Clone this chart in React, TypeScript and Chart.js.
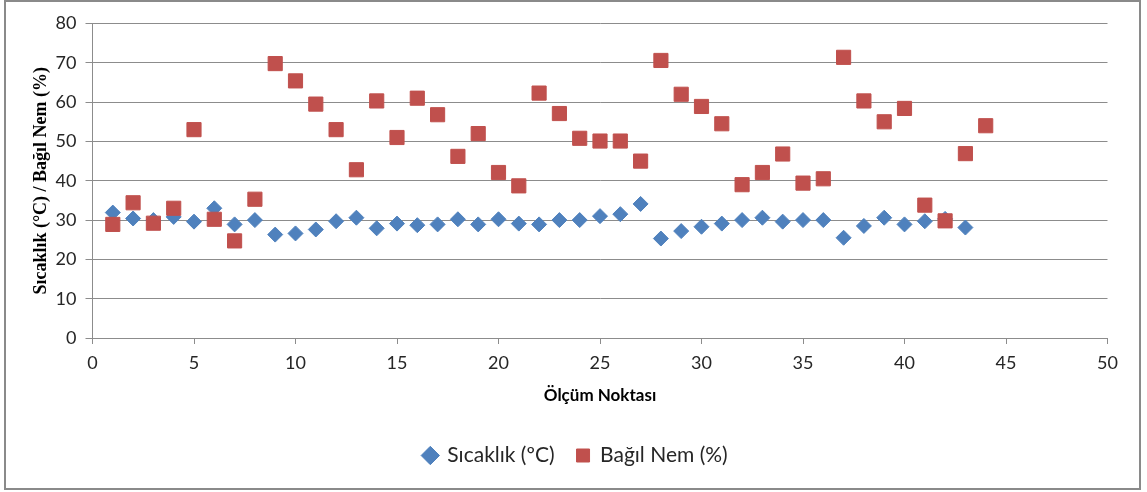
import React, { useEffect, useRef } from "react";
import { Chart, registerables } from "chart.js";

Chart.register(...registerables);

const temperature: number[] = [
  31.9, 30.4, 30.0, 30.8, 29.6, 33.0, 28.9, 30.0, 26.3, 26.6,
  27.6, 29.7, 30.6, 27.9, 29.1, 28.7, 28.9, 30.2, 28.9, 30.2,
  29.1, 28.9, 30.0, 30.0, 31.0, 31.5, 34.1, 25.3, 27.2, 28.3,
  29.1, 30.0, 30.6, 29.6, 30.0, 30.0, 25.5, 28.5, 30.6, 28.9,
  29.7, 30.3, 28.1,
];

const humidity: number[] = [
  28.9, 34.4, 29.2, 33.0, 53.0, 30.2, 24.7, 35.3, 69.8, 65.4,
  59.5, 53.0, 42.8, 60.3, 51.0, 61.0, 56.8, 46.2, 52.0, 42.1,
  38.7, 62.3, 57.1, 50.8, 50.1, 50.1, 45.0, 70.6, 62.0, 58.9,
  54.5, 39.0, 42.1, 46.8, 39.4, 40.5, 71.4, 60.3, 55.0, 58.4,
  33.8, 29.8, 46.9, 54.0,
];

const seriesNames: string[] = ["Sıcaklık (ºC)", "Bağıl Nem (%)"];
const xTitle = "Ölçüm Noktası";
const yTitle = "Sıcaklık (°C) / Bağıl Nem (%)";

const BLUE = "#4F81BD";
const RED = "#C0504D";
const GRID = "#8C8C8C";
const TEXT = "#262626";

const legendShift = {
  id: "legendShift",
  afterLayout(chart: any) {
    if (chart.legend) {
      chart.legend.left = 44;
      chart.legend.right = 1107.5;
    }
  },
};

export default function App() {
  const canvasRef = useRef<HTMLCanvasElement | null>(null);

  useEffect(() => {
    if (!canvasRef.current) return;
    const chart = new Chart(canvasRef.current, {
      type: "scatter",
      data: {
        datasets: [
          {
            label: seriesNames[0],
            data: temperature.map((v, i) => ({ x: i + 1, y: v })),
            pointStyle: "rectRot",
            pointRadius: 7.5,
            pointBorderWidth: 1,
            backgroundColor: BLUE,
            borderColor: BLUE,
            order: 2,
          },
          {
            label: seriesNames[1],
            data: humidity.map((v, i) => ({ x: i + 1, y: v })),
            pointStyle: "rect",
            pointRadius: 10,
            pointBorderWidth: 1,
            backgroundColor: RED,
            borderColor: RED,
            order: 1,
          },
        ],
      },
      plugins: [legendShift],
      options: {
        animation: false,
        responsive: false,
        maintainAspectRatio: false,
        layout: { padding: { left: 0, right: 39.5, top: 23.5, bottom: 16 } },
        plugins: {
          tooltip: { enabled: false },
          legend: {
            position: "bottom",
            labels: {
              usePointStyle: true,
              boxHeight: 13,
              boxWidth: 13,
              padding: 22,
              color: TEXT,
              font: { family: "Lato", size: 21 },
              sort: (a: any, b: any) => a.datasetIndex - b.datasetIndex,
            },
          },
        },
        scales: {
          x: {
            type: "linear",
            min: 0,
            max: 50,
            ticks: {
              stepSize: 5,
              color: TEXT,
              padding: 8,
              font: { family: "Lato", size: 18 },
            },
            grid: {
              display: true,
              drawOnChartArea: false,
              drawTicks: true,
              tickLength: 6,
              color: GRID,
            },
            border: { display: true, color: GRID, width: 1 },
            title: {
              display: true,
              text: xTitle,
              color: "#000",
              font: { family: "Lato", size: 17, weight: "bold" },
              padding: { top: 0, bottom: 17 },
            },
            afterFit: (s: any) => {
              s.height = 85;
            },
          },
          y: {
            min: 0,
            max: 80,
            ticks: {
              stepSize: 10,
              color: TEXT,
              padding: 9,
              font: { family: "Lato", size: 18 },
            },
            grid: {
              color: GRID,
              tickLength: 7,
              lineWidth: 1,
            },
            border: { display: true, color: GRID, width: 1 },
            title: {
              display: true,
              text: yTitle,
              color: "#000",
              font: { family: "Liberation Serif", size: 18, weight: "bold" },
              padding: { top: 31, bottom: 0 },
            },
            afterFit: (s: any) => {
              s.width = 92.5;
            },
          },
        },
      },
    });
    return () => chart.destroy();
  }, []);

  return (
    <div
      style={{
        position: "fixed",
        left: 0,
        top: 0,
        width: 1147,
        height: 492,
        background: "#fff",
      }}
    >
      <div
        style={{
          position: "absolute",
          left: 4,
          top: 0,
          width: 1133,
          height: 486,
          border: "2px solid #8a8a8a",
          boxSizing: "content-box",
        }}
      />
      <canvas
        ref={canvasRef}
        width={1147}
        height={492}
        style={{ position: "absolute", left: 0, top: 0, width: 1147, height: 492 }}
      />
    </div>
  );
}
